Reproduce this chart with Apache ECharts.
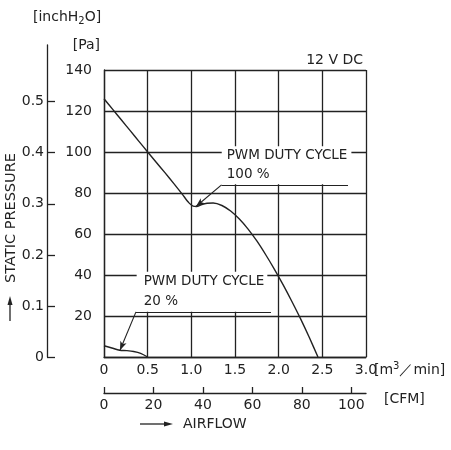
<!DOCTYPE html>
<html>
<head>
<meta charset="utf-8">
<title>Static pressure vs airflow</title>
<script src="https://cdn.jsdelivr.net/npm/echarts@6/dist/echarts.min.js"></script>
<style>
  html, body { margin: 0; padding: 0; background: #fff; }
  #main { width: 451px; height: 450px; }
</style>
</head>
<body>
<div id="main"></div>
<script>
  //  data: airflow [m3/min] vs static pressure [Pa]
  var flow100 = [0, 0.1, 0.2, 0.3, 0.4, 0.5, 0.6, 0.7, 0.8, 0.9, 0.97, 1.02, 1.06, 1.12, 1.18, 1.25,
                 1.35, 1.45, 1.55, 1.65, 1.75, 1.85, 1.95, 2.05, 2.15, 2.25, 2.35, 2.45];
  var pres100 = [126, 120.8, 115.6, 110.4, 105.2, 100, 94.9, 89.8, 84.6, 79.2, 75.3, 73.6, 73.4, 74.4, 75.0, 75.1,
                 73.9, 71.2, 67.3, 62.4, 56.6, 50.0, 42.9, 35.3, 27.2, 18.7, 9.6, 0];
  var flow20 = [0, 0.09, 0.18, 0.26, 0.34, 0.42, 0.5];
  var pres20 = [5.5, 4.4, 3.3, 3.1, 2.7, 1.8, 0];

  var paTicks = [20, 40, 60, 80, 100, 120, 140];
  var cfmTicks = [0, 20, 40, 60, 80, 100];
  var inchTicks = [0, 0.1, 0.2, 0.3, 0.4, 0.5];

  //  leader lines: [end of horizontal, knee, point on curve]
  var lead100 = [[2.794, 84], [1.346, 84], [1.053, 73.4]];
  var lead20 = [[1.912, 22], [0.366, 22], [0.183, 3.3]];
  //  top-left corner of the note boxes
  var note100 = [1.348, 102.8];
  var note20 = [0.374, 41.6];

  var CFM_PER_M3 = 35.3147;
  var PA_PER_INCH = 249.089;
  var FONT = '"DejaVu Sans", Verdana, sans-serif';
  var INK = '#222';

  var gridTop = 70, gridBottom = 93, inchTop = 45, H = 450;
  var plotH = H - gridBottom - gridTop;
  var inchMax = 140 * (H - gridBottom - inchTop) / plotH / PA_PER_INCH;

  function pairs(xs, ys) {
    return xs.map(function (x, i) { return [x, ys[i]]; });
  }

  function leader(pts) {
    return [
      [{coord: pts[0]}, {coord: pts[1]}],
      [{coord: pts[1]}, {coord: pts[2], symbol: 'arrow', symbolSize: [5, 9]}]
    ];
  }

  function fmt1(v) {
    return v === 0 ? '0' : v.toFixed(1);
  }

  var chart = echarts.init(document.getElementById('main'));
  var lbl = {color: INK, fontSize: 14, fontFamily: FONT};
  var gridLine = {show: true, lineStyle: {color: INK, width: 1.3}};

  chart.setOption({
    animation: false,
    backgroundColor: '#fff',
    grid: [
      {left: 104, right: 85, top: gridTop, bottom: gridBottom, containLabel: false, outerBoundsMode: 'none'},
      {left: 47, width: 20, top: inchTop, bottom: gridBottom, containLabel: false, outerBoundsMode: 'none'}
    ],
    xAxis: [
      {
        type: 'value', gridIndex: 0, min: 0, max: 3, interval: 0.5,
        axisLine: {show: true, lineStyle: {color: INK, width: 1.3}},
        axisTick: {show: false},
        splitLine: gridLine,
        axisLabel: Object.assign({margin: 6, formatter: fmt1}, lbl)
      },
      {
        type: 'value', gridIndex: 0, position: 'bottom', offset: 36,
        min: 0, max: 3 * CFM_PER_M3,
        axisLine: {show: true, lineStyle: {color: INK, width: 1.3}},
        axisTick: {show: true, inside: true, length: 6, customValues: cfmTicks, lineStyle: {color: INK, width: 1.3}},
        splitLine: {show: false},
        axisLabel: Object.assign({margin: 5, customValues: cfmTicks}, lbl)
      },
      {type: 'value', gridIndex: 1, show: false}
    ],
    yAxis: [
      {
        type: 'value', gridIndex: 0, min: 0, max: 140, interval: 20,
        axisLine: {show: true, lineStyle: {color: INK, width: 1.3}},
        axisTick: {show: false},
        splitLine: gridLine,
        axisLabel: Object.assign({margin: 12, customValues: paTicks, padding: [0, 0, 5, 0]}, lbl)
      },
      {
        type: 'value', gridIndex: 1, position: 'left', min: 0, max: inchMax,
        axisLine: {show: true, lineStyle: {color: INK, width: 1.3}},
        axisTick: {show: true, inside: true, length: 8, customValues: inchTicks, lineStyle: {color: INK, width: 1.3}},
        splitLine: {show: false},
        axisLabel: Object.assign({margin: 3, customValues: inchTicks, formatter: fmt1}, lbl)
      }
    ],
    series: [
      {
        name: 'PWM 100 %', type: 'line', xAxisIndex: 0, yAxisIndex: 0, z: 10,
        data: pairs(flow100, pres100), smooth: 0.25, symbol: 'none',
        lineStyle: {color: INK, width: 1.4},
        markLine: {
          silent: true, z: 10, symbol: ['none', 'none'], label: {show: false},
          lineStyle: {color: INK, width: 1.1, type: 'solid'},
          data: leader(lead100)
        }
      },
      {
        name: 'PWM 20 %', type: 'line', xAxisIndex: 0, yAxisIndex: 0, z: 10,
        data: pairs(flow20, pres20), smooth: 0.3, symbol: 'none',
        lineStyle: {color: INK, width: 1.4},
        markLine: {
          silent: true, z: 10, symbol: ['none', 'none'], label: {show: false},
          lineStyle: {color: INK, width: 1.1, type: 'solid'},
          data: leader(lead20)
        }
      }
    ]
  });

  //  notes and unit texts
  function px(p) { return chart.convertToPixel({xAxisIndex: 0, yAxisIndex: 0}, p); }

  function note(pos, lines, lh, pad) {
    var p = px(pos);
    return {
      type: 'text', x: p[0], y: p[1], z: 3,
      style: {
        text: lines.join('\n'), font: '13.5px ' + FONT, fill: INK,
        align: 'left', verticalAlign: 'top', lineHeight: lh,
        backgroundColor: '#fff', padding: pad
      }
    };
  }

  function txt(x, y, text, align, extra) {
    return {
      type: 'text', x: x, y: y, z: 5,
      style: Object.assign({
        text: text, font: '14px ' + FONT, fill: INK, align: align, verticalAlign: 'middle'
      }, extra || {})
    };
  }

  var rich = {
    n: {fontSize: 14, fontFamily: FONT, color: INK, lineHeight: 18},
    sub: {fontSize: 10, fontFamily: FONT, color: INK, lineHeight: 18, verticalAlign: 'bottom'},
    sup: {fontSize: 10, fontFamily: FONT, color: INK, lineHeight: 18, verticalAlign: 'top'}
  };

  chart.setOption({
    graphic: [
      note(note100, ['PWM DUTY CYCLE', '100 %'], 19, [0, 4, 0, 5]),
      note(note20, ['PWM DUTY CYCLE', '20 %'], 20, [0, 3, 0, 7]),
      txt(363, 60, '12 V DC', 'right'),
      txt(100, 45, '[Pa]', 'right'),
      txt(33, 17, '{n|[inchH}{sub|2}{n|O]}', 'left', {rich: rich}),
      txt(374, 370, '{n|[m}{sup|3}{n|／min]}', 'left', {rich: rich}),
      txt(384, 399, '[CFM]', 'left'),
      txt(183, 424, 'AIRFLOW', 'left'),
      {type: 'text', x: 11, y: 218, rotation: Math.PI / 2, z: 5,
        style: {text: 'STATIC PRESSURE', font: '14.5px ' + FONT, fill: INK, align: 'center', verticalAlign: 'middle'}},
      //  arrows
      {type: 'line', shape: {x1: 140, y1: 424, x2: 166, y2: 424}, style: {stroke: INK, lineWidth: 1.3}},
      {type: 'polygon', shape: {points: [[173, 424], [164, 421.5], [164, 426.5]]}, style: {fill: INK}},
      {type: 'line', shape: {x1: 10, y1: 321, x2: 10, y2: 303}, style: {stroke: INK, lineWidth: 1.3}},
      {type: 'polygon', shape: {points: [[10, 296], [7.5, 305], [12.5, 305]]}, style: {fill: INK}}
    ]
  });
</script>
</body>
</html>
